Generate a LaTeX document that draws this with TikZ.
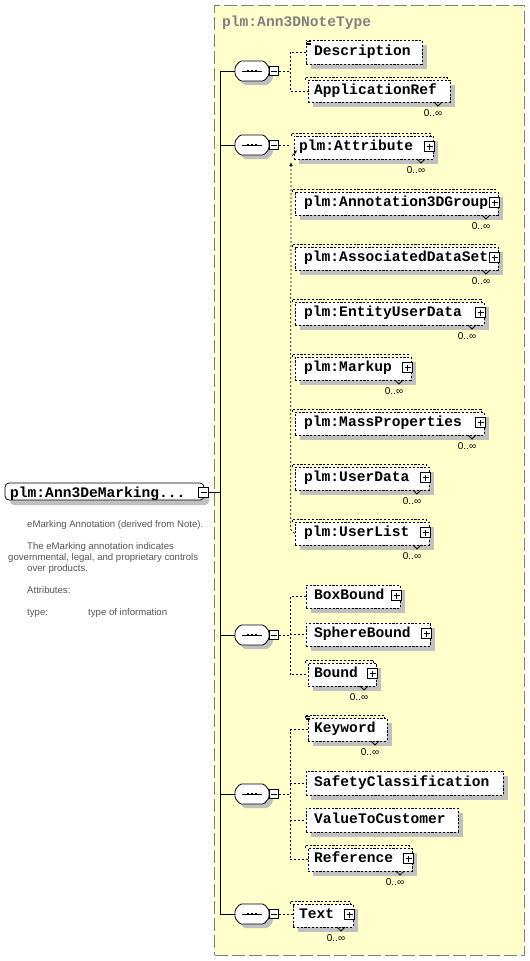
\documentclass[tikz,border=0pt]{standalone}
\usepackage{fontspec}
\setmainfont{Liberation Sans}
\newfontfamily\elfont{Liberation Mono}
\usetikzlibrary{shadows,fit,arrows.meta,calc}
\definecolor{panelbg}{RGB}{255,255,204}
\definecolor{panelln}{RGB}{128,128,128}
\definecolor{shadowc}{RGB}{192,192,192}
\definecolor{desctxt}{RGB}{85,85,85}
\tikzset{
 panel/.style={draw=panelln, fill=panelbg, line width=1pt, dash pattern=on 13pt off 4pt, inner sep=0pt},
 elbox/.style={draw=black, fill=white, line width=0.75pt, dash pattern=on 2.2pt off 1.6pt, inner sep=0pt},
 bracket/.style={draw=black, line width=0.75pt, dash pattern=on 2.2pt off 1.6pt},
 elshadow/.style={drop shadow={shadow xshift=5pt, shadow yshift=-5pt, fill=shadowc, opacity=1}},
 mainbox/.style={draw=black, fill=white, line width=0.8pt, rounded corners=4pt, inner sep=0pt,
   drop shadow={shadow xshift=5pt, shadow yshift=-5pt, fill=shadowc, opacity=1}},
 eltxt/.style={font=\elfont\bfseries\fontsize{14.6}{16}\selectfont, inner sep=0pt},
 ttl/.style={eltxt, text=panelln},
 occ/.style={font=\fontsize{10}{12}\selectfont, inner sep=0pt},
 notetxt/.style={font=\fontsize{9.6}{11}\selectfont, text=desctxt, inner sep=0pt, anchor=base west},
 mbox/.style={draw=black, fill=white, minimum size=9.5pt, inner sep=0pt, line width=0.6pt,
   path picture={\draw[line width=0.6pt] ([xshift=-3pt]path picture bounding box.center) -- ([xshift=3pt]path picture bounding box.center);}},
 pbox/.style={mbox,
   path picture={\draw[line width=0.6pt] ([xshift=-3pt]path picture bounding box.center) -- ([xshift=3pt]path picture bounding box.center)
     ([yshift=-3pt]path picture bounding box.center) -- ([yshift=3pt]path picture bounding box.center);}},
 compoframe/.style={minimum width=34pt, minimum height=20pt, inner sep=0pt},
 octo/.style={draw=black, fill=white, line width=0.8pt, rounded corners=1.5pt},
 trunkln/.style={draw=black, line width=1pt},
 conn/.style={draw=black, line width=0.75pt, dash pattern=on 2pt off 2pt},
 notch/.style={draw=black, line width=0.75pt},
}
\newcommand{\elem}[9]{%
 \ifnum#8=1 \draw[bracket] (#2-3,#3) -- (#2-3,#3-3) -- (#4-3,#3-3) -- (#4-3,#3);\fi
 \node[elbox, elshadow, fit={(#2,#3) (#4,#5)}] (#1) {};
 \node[eltxt, anchor=base west] (#1t) at (#6,{(#3+#5)/2+3}) {#7};
 \ifnum#9=1 \node[pbox] (#1p) at (#4-3.5,{(#3+#5)/2-1}) {};\fi
 \ifnum#8=1 \draw[notch] (#4-16,#5) -- (#4-12,#5+4) -- (#4-8,#5); \node[occ] (#1o) at (#4-17,#5+11) {0..∞};\fi
}
\newcommand{\txticon}[2]{\draw[line width=0.6pt] (#1+1,#2+1.5) -- ++(4,0) (#1+1,#2+3) -- ++(4,0) (#1+1,#2+4.5) -- ++(4,0);}
\newcommand{\compo}[3]{%
 \begin{scope}[shift={(#2,#3)}]
  \fill[shadowc, rounded corners=1.5pt] (-13,0) -- (-8,-6) -- (16,-6) -- (21,0) -- (21,8) -- (16,14) -- (-8,14) -- (-13,8) -- cycle;
  \path[octo] (-17,-4) -- (-12,-10) -- (12,-10) -- (17,-4) -- (17,4) -- (12,10) -- (-12,10) -- (-17,4) -- cycle;
  \draw[line width=0.7pt] (-10,0) -- (10,0);
  \foreach \d in {-4,0,4} \fill (\d-1.4,-1.4) rectangle (\d+1.4,1.4);
 \end{scope}
 \node[compoframe] (#1) at (#2,#3) {};
}
\begin{document}
\begin{tikzpicture}[x=1pt,y=-1pt]
\useasboundingbox (0,0) rectangle (530,961);
\fill[white] (0,0) rectangle (530,961);
% panel
\node[panel, fit={(214.5,5.5) (524.5,955)}] (panel) {};
\node[ttl, anchor=base west] (title) at (222,26) {plm:Ann3DNoteType};

% main element
\node[mainbox, fit={(5,483) (204,500)}] (main) {};
\node[eltxt, anchor=base west] (maint) at (10,497) {plm:Ann3DeMarking...};
\node[mbox] (mainm) at (203.5,492.5) {};
\coordinate (trunk) at (220,492.5);

% documentation
\node[notetxt] (d1) at (27,527) {eMarking Annotation (derived from Note).};
\node[notetxt] (d2) at (27,549) {The eMarking annotation indicates};
\node[notetxt] (d3) at (8,560) {governmental, legal, and proprietary controls};
\node[notetxt] (d4) at (27,571) {over products.};
\node[notetxt] (d5) at (27,593) {Attributes:};
\node[notetxt] (d6) at (27,615) {type:};
\node[notetxt] (d7) at (88,615) {type of information};

% compositors
\foreach \i/\y in {1/71,2/145,3/635,4/794,5/914} {
  \compo{c\i}{252}{\y}
  \node[mbox] (cm\i) at (274,\y) {};
}
\draw[trunkln] (mainm.east) -- (trunk);
\draw[trunkln] (c1.west) -- (c1.west -| trunk) -- (c5.west -| trunk) -- (c5.west);
\foreach \i in {2,3,4} \draw[trunkln] (c\i.west) -- (c\i.west -| trunk);

% connector junctions
\coordinate (j1) at (290,71);
\coordinate (j2) at (289,145);
\coordinate (j3) at (290,635);
\coordinate (j4) at (290,794);
\coordinate (a2s) at (292,156);
\coordinate (a2e) at (297,150);
\coordinate (v2t) at (291,162);

% group 1
\elem{desc}{306}{40}{422}{64}{314}{Description}{0}{0}
\txticon{306}{40}
\elem{appr}{308}{80}{450}{102}{314}{ApplicationRef}{1}{0}
\draw[conn] (cm1.east) -- (j1);
\draw[conn] (desc.west) -- (desc.west -| j1) -- (appr.west -| j1) -- (appr.west);

% group 2
\elem{attr}{294}{136}{433}{159}{299}{plm:Attribute}{1}{1}
\elem{adg}{295}{192}{498}{215}{304}{plm:Annotation3DGroup}{1}{1}
\elem{ads}{295}{247}{498}{270}{304}{plm:AssociatedDataSet}{1}{1}
\elem{eud}{295}{302}{484}{325}{304}{plm:EntityUserData}{1}{1}
\elem{mkp}{295}{357}{411}{380}{304}{plm:Markup}{1}{1}
\elem{mps}{295}{412}{484}{435}{304}{plm:MassProperties}{1}{1}
\elem{usd}{295}{467}{429}{490}{304}{plm:UserData}{1}{1}
\elem{usl}{295}{522}{429}{545}{304}{plm:UserList}{1}{1}
\draw[conn] (cm2.east) -- (j2);
\draw[line width=0.6pt, -{Latex[length=3.5pt,width=3pt]}] (a2s) -- (a2e);
\draw[conn, -{Latex[length=4pt,width=3.5pt]}] (usl.west) -- ++(-4,-4) -- (v2t);

% group 3
\elem{bb}{306}{585}{400}{608}{314}{BoxBound}{0}{1}
\elem{sb}{306}{623}{430}{646}{314}{SphereBound}{0}{1}
\elem{bnd}{308}{663}{376}{686}{314}{Bound}{1}{1}
\draw[conn] (cm3.east) -- (j3);
\draw[conn] (bb.west) -- (bb.west -| j3) -- (bnd.west -| j3) -- (bnd.west);
\draw[conn] (sb.west -| j3) -- (sb.west);

% group 4
\elem{kw}{308}{718}{387}{741}{314}{Keyword}{1}{0}
\txticon{305}{715}
\elem{sc}{306}{771}{503}{795}{314}{SafetyClassification}{0}{0}
\elem{vtc}{306}{808}{458}{832}{314}{ValueToCustomer}{0}{0}
\elem{ref}{308}{848}{412}{871}{314}{Reference}{1}{1}
\draw[conn] (cm4.east) -- (j4);
\draw[conn] (kw.west) -- (kw.west -| j4) -- (ref.west -| j4) -- (ref.west);
\draw[conn] (sc.west -| j4) -- (sc.west);
\draw[conn] (vtc.west -| j4) -- (vtc.west);

% group 5
\elem{txt}{293}{904}{353}{927}{299}{Text}{1}{1}
\draw[conn] (cm5.east) -- (cm5.east -| txt.west);
\end{tikzpicture}
\end{document}
